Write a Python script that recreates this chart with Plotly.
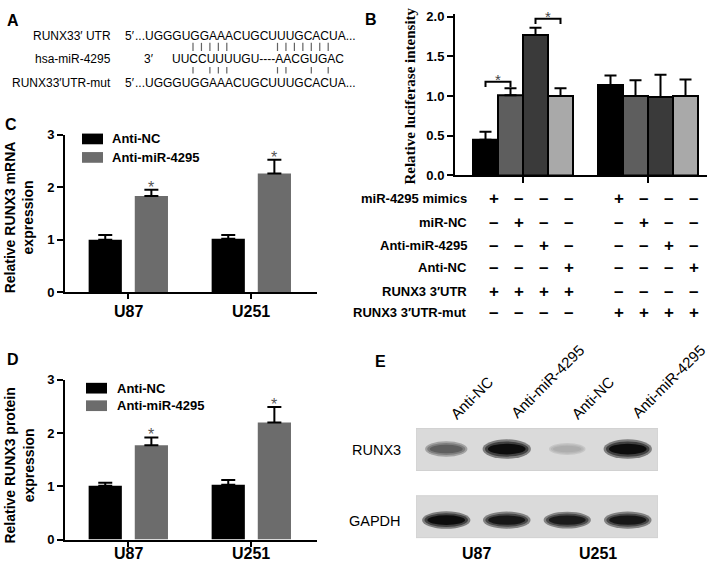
import plotly.graph_objects as go

W, H = 709, 569
def fx(px): return px / W
def fy(py): return 1 - py / H

SANS = "Liberation Sans, Arial, Helvetica, sans-serif"
SERIF = "Liberation Serif, Times New Roman, serif"

# ---------------- Panel A data ----------------
a_labels = ["RUNX33′ UTR", "hsa-miR-4295", "RUNX33′UTR-mut"]
a_ends = ["5′", "3′", "5′"]
a_seqs = ["...UGGGUGGAAACUGCUUUGCACUA...", "UUCCUUUUGU----AACGUGAC", "...UGGGUGGAAACUGCUUUGCACUA..."]
a_pairs_wt = [0, 1, 2, 3, 4, 10, 11, 12, 13, 14, 15, 16]
a_pairs_mut = [0, 2, 3, 4, 10, 11, 14, 16]

# ---------------- Panel B data ----------------
b_groups = ["RUNX3 3′UTR", "RUNX3 3′UTR-mut"]
b_treatments = ["miR-4295 mimics", "miR-NC", "Anti-miR-4295", "Anti-NC"]
b_wt_values = [0.45, 1.01, 1.77, 1.00]
b_wt_errors = [0.10, 0.09, 0.09, 0.10]
b_mut_values = [1.14, 1.00, 0.99, 1.00]
b_mut_errors = [0.12, 0.20, 0.28, 0.21]
b_sig_pairs = [(0, 1), (2, 3)]
b_sig_levels = [1.18, 1.975]
b_table_rows = ["miR-4295 mimics", "miR-NC", "Anti-miR-4295", "Anti-NC",
                "RUNX3 3′UTR", "RUNX3 3′UTR-mut"]
b_table_signs = ["+---+---",
                 "-+---+--",
                 "--+---+-",
                 "---+---+",
                 "++++----",
                 "----++++"]
b_colors = ["#000000", "#5e5e5e", "#3a3a3a", "#a9a9a9"]

# ---------------- Panel C data ----------------
cells = ["U87", "U251"]
series_names = ["Anti-NC", "Anti-miR-4295"]
c_nc = [1.00, 1.02]
c_nc_err = [0.09, 0.07]
c_mir = [1.83, 2.26]
c_mir_err = [0.12, 0.26]

# ---------------- Panel D data ----------------
d_nc = [1.01, 1.03]
d_nc_err = [0.06, 0.09]
d_mir = [1.77, 2.20]
d_mir_err = [0.15, 0.29]

# ---------------- Panel E data ----------------
e_lanes = ["Anti-NC", "Anti-miR-4295", "Anti-NC", "Anti-miR-4295"]
e_proteins = ["RUNX3", "GAPDH"]
e_runx3 = [0.60, 1.00, 0.22, 1.00]
e_gapdh = [1.00, 0.95, 0.93, 0.95]

fig = go.Figure()
annotations = []
shapes = []

def ann(text, x, y, size=12, bold=False, xanchor="center", yanchor="middle",
        xref="paper", yref="paper", family=SANS, color="black", angle=0, **kw):
    annotations.append(dict(text=text, x=x, y=y, xref=xref, yref=yref,
                            xanchor=xanchor, yanchor=yanchor, showarrow=False,
                            textangle=angle,
                            font=dict(family=family, size=size, color=color,
                                      weight="bold" if bold else "normal"), **kw))

# ---------------- Panel letters ----------------
for letter, px, py in [("A", 5, 14), ("B", 363, 13), ("C", 3, 121), ("D", 5, 362), ("E", 373, 364)]:
    ann(letter, fx(px), fy(py), size=16, bold=True, xanchor="left")

# ---------------- Panel A ----------------
row_py = [30, 53, 78]
end_px = [123, 142, 123]
seq_px = [133, 170, 133]
for r in range(3):
    ann(a_labels[r], fx(113), fy(row_py[r]), size=12, xanchor="right")
    ann(a_ends[r], fx(end_px[r]), fy(row_py[r]), size=12, xanchor="left")
    ann(a_seqs[r], fx(seq_px[r]), fy(row_py[r]), size=12, xanchor="left")

slot0, slot_w = 193, 8.45
fig.add_trace(go.Scatter(
    x=a_pairs_wt + a_pairs_mut,
    y=[0] * len(a_pairs_wt) + [1] * len(a_pairs_mut),
    mode="markers",
    marker=dict(symbol="line-ns", size=[5.8] * len(a_pairs_wt) + [4.6] * len(a_pairs_mut),
                line=dict(width=1.2, color="#222")),
    xaxis="x5", yaxis="y5", showlegend=False, hoverinfo="skip"))

# ---------------- Panel B ----------------
b_pos = [g * 5 + i for g in range(len(b_groups)) for i in range(len(b_treatments))]
b_vals = b_wt_values + b_mut_values
b_errs = b_wt_errors + b_mut_errors
fig.add_trace(go.Bar(
    x=b_pos, y=b_vals, width=1.0,
    marker=dict(color=b_colors * 2, line=dict(color="black", width=2)),
    error_y=dict(type="data", array=b_errs, arrayminus=[0] * len(b_errs), symmetric=False,
                 color="black", thickness=2, width=6),
    xaxis="x", yaxis="y", showlegend=False))
for (i, j), lvl in zip(b_sig_pairs, b_sig_levels):
    fig.add_trace(go.Scatter(
        x=[b_pos[i], b_pos[i], b_pos[j], b_pos[j]], y=[lvl - 0.065, lvl, lvl, lvl - 0.065],
        mode="lines", line=dict(color="black", width=2), cliponaxis=False,
        xaxis="x", yaxis="y", showlegend=False, hoverinfo="skip"))
    ann("*", (b_pos[i] + b_pos[j]) / 2, lvl, size=15, xref="x", yref="y",
        yanchor="bottom", color="#444", yshift=-8)

ann("Relative luciferase intensity", fx(410), fy(92), size=15, bold=True,
    family=SERIF, angle=-90)

table_py = [197, 221, 245, 268, 292, 314]
for r, label in enumerate(b_table_rows):
    ann(label, fx(469), fy(table_py[r]), size=13, bold=True, xanchor="right")
    for j, s in enumerate(b_table_signs[r]):
        ann("+" if s == "+" else "–", b_pos[j], fy(table_py[r]), size=17, bold=True,
            xref="x", xshift=8)

# ---------------- Panels C & D ----------------
bar_w, off_nc, off_mir = 0.27, -0.32, 0.055
grp = list(range(len(cells)))
for ax, nc, nce, mir, mire, label_py in [("2", c_nc, c_nc_err, c_mir, c_mir_err, 313),
                                          ("3", d_nc, d_nc_err, d_mir, d_mir_err, 561)]:
    fig.add_trace(go.Bar(
        x=grp, y=nc, width=bar_w, offset=off_nc, name=series_names[0],
        marker=dict(color="#000000", line=dict(width=0)),
        error_y=dict(type="data", array=nce, arrayminus=[0, 0], symmetric=False,
                     color="black", thickness=2, width=7),
        xaxis="x" + ax, yaxis="y" + ax, showlegend=False))
    fig.add_trace(go.Bar(
        x=grp, y=mir, width=bar_w, offset=off_mir, name=series_names[1],
        marker=dict(color="#6c6c6c", line=dict(width=0)),
        error_y=dict(type="data", array=mire, arrayminus=[0, 0], symmetric=False,
                     color="black", thickness=2, width=7),
        xaxis="x" + ax, yaxis="y" + ax, showlegend=False))
    for g in grp:
        ann("*", g + off_mir + bar_w / 2, mir[g] + mire[g], size=16, xref="x" + ax,
            yref="y" + ax, yanchor="bottom", color="#555", yshift=-8)
        ann(cells[g], g, fy(label_py), size=16, bold=True, xref="x" + ax)

# legends
for (lx, top1, top2, tx) in [(82, 130, 149, 110), (86, 386, 404, 115)]:
    for k, (top, col) in enumerate([(top1, "#000000"), (top2, "#6c6c6c")]):
        shapes.append(dict(type="rect", xref="paper", yref="paper",
                           x0=fx(lx), x1=fx(lx + 21), y0=fy(top + 11), y1=fy(top),
                           fillcolor=col, line=dict(width=0)))
        ann(series_names[k], fx(tx), fy(top + 5.5), size=13, bold=True, xanchor="left")

ann("Relative RUNX3 mRNA<br>expression", fx(19), fy(216), size=14, bold=True, angle=-90)
ann("Relative RUNX3 protein<br>expression", fx(19), fy(471), size=14, bold=True, angle=-90)

# ---------------- Panel E ----------------
blot_rows_py = [454, 527]
blot_boxes = [(433, 476), (502, 545)]
for (t, b) in blot_boxes:
    shapes.append(dict(type="rect", xref="x4", yref="y4", x0=-0.5, x1=3.5, y0=t, y1=b,
                       fillcolor="#dadada", line=dict(color="#d0d0d0", width=1), layer="below"))

def gray(v):
    g = int(round(v))
    return f"rgb({g},{g},{g})"

for row, intens, hmax in [(0, e_runx3, 20), (1, e_gapdh, 18)]:
    cy = blot_rows_py[row]
    for i, v in enumerate(intens):
        w = 0.55 + 0.25 * v
        h = hmax * (0.5 + 0.5 * v)
        for scale_w, scale_h, frac in [(1.0, 1.0, 0.45), (0.9, 0.78, 0.75), (0.78, 0.55, 1.0)]:
            level = 218 - 205 * v * frac
            shapes.append(dict(type="circle", xref="x4", yref="y4",
                               x0=i - w * scale_w / 2, x1=i + w * scale_w / 2,
                               y0=cy - h * scale_h / 2, y1=cy + h * scale_h / 2,
                               fillcolor=gray(level), line=dict(width=0)))

for k, name in enumerate(e_proteins):
    ann(name, fx(403), fy(blot_rows_py[k] + 1), size=14.5, xanchor="right")
for i, name in enumerate(e_lanes):
    ann(name, i, fy(429), size=15, xref="x4", xanchor="left", yanchor="bottom", angle=-45,
        xshift=-2)
for k, name in enumerate(cells):
    ann(name, 0.5 + 2 * k, fy(561), size=16, bold=True, xref="x4")

# ---------------- Layout ----------------
axis_common = dict(showgrid=False, zeroline=False, showline=True, linecolor="black",
                   linewidth=2, ticks="outside", tickwidth=2, tickcolor="black",
                   tickfont=dict(family=SANS, size=13, color="black", weight="bold"))
axis_x = {k: v for k, v in axis_common.items() if k != "tickfont"}

b_top = 2.03
c_xr = [(65 - 128) / 123, (317 - 128) / 123]
fig.update_layout(
    width=W, height=H, margin=dict(l=0, r=0, t=0, b=0),
    paper_bgcolor="white", plot_bgcolor="white", showlegend=False,
    xaxis=dict(domain=[fx(455), fx(707)], range=[(455 - 485.5) / 25, (707 - 485.5) / 25],
               tickvals=[1.5, 6.5], showticklabels=False, ticklen=6, anchor="y", **axis_x),
    yaxis=dict(domain=[fy(173), fy(173 - b_top * 81.5)], range=[0, b_top],
               tickvals=[0, 0.5, 1.0, 1.5, 2.0], ticktext=["0.0", "0.5", "1.0", "1.5", "2.0"],
               ticklen=6, anchor="x", **axis_common),
    xaxis2=dict(domain=[fx(65), fx(317)], range=c_xr, tickvals=grp, showticklabels=False,
                ticklen=5, anchor="y2", **axis_x),
    yaxis2=dict(domain=[fy(293), fy(131)], range=[0, 3], tickvals=[0, 1, 2, 3],
                ticklen=6, anchor="x2", **axis_common),
    xaxis3=dict(domain=[fx(65), fx(317)], range=c_xr, tickvals=grp, showticklabels=False,
                ticklen=5, anchor="y3", **axis_x),
    yaxis3=dict(domain=[fy(547), fy(383)], range=[0, 3], tickvals=[0, 1, 2, 3],
                ticklen=6, anchor="x3", **axis_common),
    xaxis4=dict(domain=[fx(416), fx(658)], range=[-0.5, 3.5], visible=False, anchor="y4"),
    yaxis4=dict(domain=[fy(560), fy(420)], range=[560, 420], visible=False, anchor="x4"),
    xaxis5=dict(domain=[fx(150), fx(350)], range=[(150 - slot0) / slot_w, (350 - slot0) / slot_w],
                visible=False, anchor="y5"),
    yaxis5=dict(domain=[fy(80), fy(30)], range=[(80 - 41) / 24, (30 - 41) / 24],
                visible=False, anchor="x5"),
    annotations=annotations, shapes=shapes,
)

fig.write_html("out.html", config={"displayModeBar": False},
               post_script="document.body.style.margin='0';document.body.style.overflow='hidden';")
